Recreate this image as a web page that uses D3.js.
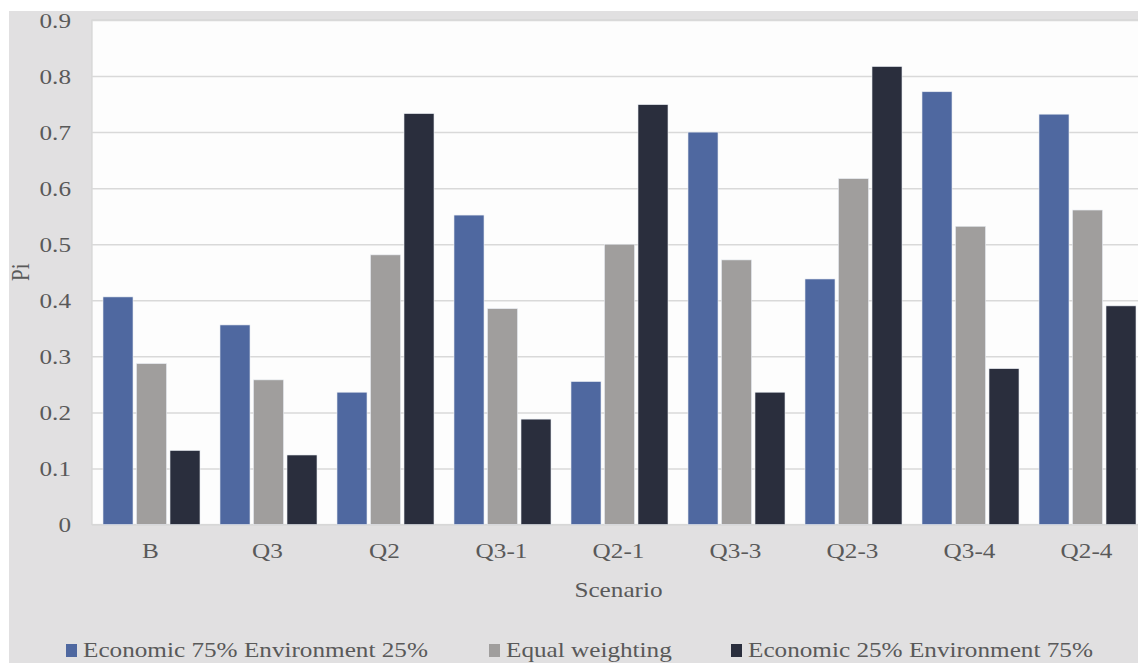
<!DOCTYPE html>
<html>
<head>
<meta charset="utf-8">
<script src="https://cdn.jsdelivr.net/npm/d3@7"></script>
<style>
  html, body { margin: 0; padding: 0; background: #ffffff; }
  svg { display: block; }
  text { font-family: "Liberation Serif", "Times New Roman", serif; fill: #595959; }
</style>
</head>
<body>
<svg id="chart" width="1138" height="663"></svg>
<script>
const categories = ["B", "Q3", "Q2", "Q3-1", "Q2-1", "Q3-3", "Q2-3", "Q3-4", "Q2-4"];
const seriesNames = ["Economic 75% Environment 25%", "Equal weighting", "Economic 25% Environment 75%"];
const econ75 = [0.406, 0.356, 0.236, 0.552, 0.255, 0.700, 0.438, 0.772, 0.732];
const equalW = [0.287, 0.258, 0.481, 0.385, 0.500, 0.472, 0.617, 0.532, 0.561];
const econ25 = [0.132, 0.124, 0.733, 0.188, 0.749, 0.236, 0.817, 0.278, 0.390];
const yTicks = [0, 0.1, 0.2, 0.3, 0.4, 0.5, 0.6, 0.7, 0.8, 0.9];
const colors = ["#4f68a0", "#a09e9d", "#2a2e3d"];

const seriesValues = [econ75, equalW, econ25];
const svg = d3.select("#chart");
const W = 1138, H = 663;
const SX = 1.2; // horizontal stretch of text seen in reference

// outer gray background
svg.append("rect").attr("x", 9).attr("y", 11).attr("width", W - 9).attr("height", H - 11).attr("fill", "#e1e0e1");

const pLeft = 92, pTop = 20, pBottom = 524.5;
const groupW = 117;
const pRight = pLeft + groupW * categories.length;

const x0 = d3.scaleBand().domain(categories).range([pLeft, pRight]).padding(0);
const x1 = d3.scaleBand().domain(seriesNames).range([11, 108]).paddingInner(0.1045).paddingOuter(0);
const y = d3.scaleLinear().domain([0, 0.9]).range([pBottom, pTop]);

// plot background
svg.append("rect").attr("x", pLeft).attr("y", pTop).attr("width", pRight - pLeft).attr("height", pBottom - pTop)
  .attr("fill", "#fdfdfd").attr("stroke", "#d4d4d4").attr("stroke-width", 1.2);

// gridlines
const grid = svg.append("g").attr("transform", `translate(${pLeft},0)`)
  .call(d3.axisLeft(y).tickValues(yTicks).tickSize(-(pRight - pLeft)).tickFormat(""));
grid.select(".domain").remove();
grid.selectAll("line").attr("stroke", "#d9d9d9").attr("stroke-width", 1.5);

// bars
const rows = categories.map((c, i) => ({ cat: c, vals: seriesNames.map((s, j) => ({ s, j, v: seriesValues[j][i] })) }));
const g = svg.append("g");
g.selectAll("g.grp").data(rows).join("g").attr("class", "grp")
  .attr("transform", d => `translate(${x0(d.cat)},0)`)
  .selectAll("rect").data(d => d.vals).join("rect")
  .attr("x", d => x1(d.s))
  .attr("width", x1.bandwidth())
  .attr("y", d => y(d.v))
  .attr("height", d => y(0) - y(d.v))
  .attr("fill", d => colors[d.j])
  .attr("stroke", "#e8ecf2").attr("stroke-width", 0.6);

// y axis labels
const yAxis = svg.append("g").attr("transform", `translate(${pLeft},0)`)
  .call(d3.axisLeft(y).tickValues(yTicks).tickSize(0).tickFormat(d => d === 0 ? "0" : d3.format(".1f")(d)));
yAxis.select(".domain").remove();
yAxis.selectAll("text")
  .attr("x", 0).attr("dy", "0.34em")
  .attr("text-anchor", "end")
  .attr("transform", `translate(-21,0) scale(${SX},1)`)
  .style("font-size", "21px").style("font-family", "Liberation Serif, serif").attr("fill", "#595959");

// x axis labels
const xAxis = svg.append("g").attr("transform", `translate(0,${pBottom})`)
  .call(d3.axisBottom(x0).tickSize(0));
xAxis.select(".domain").remove();
xAxis.selectAll("text")
  .attr("y", 0).attr("dy", 0)
  .attr("text-anchor", "middle")
  .attr("transform", `translate(0,33) scale(${SX},1)`)
  .style("font-size", "21px").style("font-family", "Liberation Serif, serif").attr("fill", "#595959");

// axis titles
svg.append("text").attr("text-anchor", "middle")
  .attr("transform", `translate(${(pLeft + pRight) / 2},597) scale(${SX},1)`)
  .style("font-size", "21px").text("Scenario");
svg.append("text").attr("text-anchor", "middle")
  .attr("transform", `translate(29,${(pTop + pBottom) / 2}) scale(${SX},1) rotate(-90)`)
  .style("font-size", "21px").text("Pi");

// legend
const legendX = [66, 489, 731];
const leg = svg.append("g");
seriesNames.forEach((s, i) => {
  leg.append("rect").attr("x", legendX[i]).attr("y", 644).attr("width", 11).attr("height", 13).attr("fill", colors[i]);
  leg.append("text").attr("transform", `translate(${legendX[i] + 17},657) scale(${SX},1)`)
    .style("font-size", "21px").text(s);
});
</script>
</body>
</html>
